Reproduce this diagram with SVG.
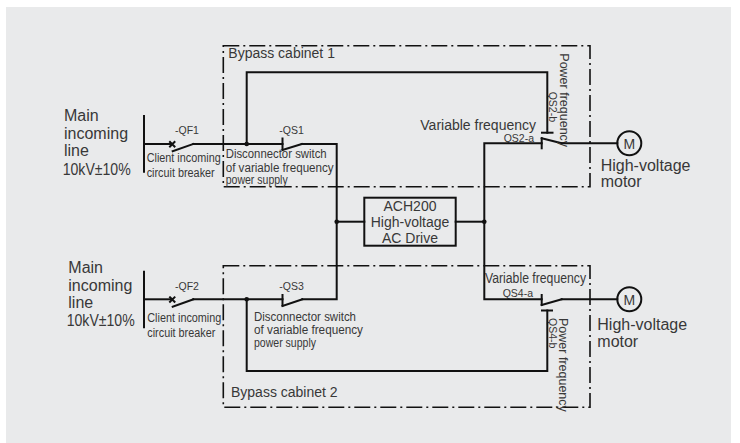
<svg xmlns="http://www.w3.org/2000/svg" width="740" height="443" viewBox="0 0 740 443">
<style>
.w{fill:none;stroke:#111;stroke-width:2;stroke-linecap:square}
.cab{fill:none;stroke:#111;stroke-width:1.6;stroke-dasharray:16 4 2 4}
.t{font-family:"Liberation Sans",Arial,sans-serif;fill:#383838}
.big{font-size:16px}
.mid{font-size:14px}
.sm{font-size:12.5px}
.xs{font-size:10.5px}
.dot{fill:#111}
</style>
<rect x="0" y="0" width="740" height="443" fill="#ffffff"/>
<rect x="6" y="7" width="725" height="436" fill="#e9eaeb"/>

<g id="cabinet1">
<rect class="cab" x="223.3" y="45.7" width="366.7" height="141"/>
<text class="t mid" x="228.3" y="58.3">Bypass cabinet 1</text>
</g>
<g id="cabinet2">
<rect class="cab" x="223.3" y="265.7" width="366.7" height="141.6"/>
<text class="t mid" x="231" y="397.3">Bypass cabinet 2</text>
</g>

<g id="incoming1">
<text class="t big" x="64" y="120.7">Main</text>
<text class="t big" x="64" y="138.5">incoming</text>
<text class="t big" x="64" y="156.3">line</text>
<text class="t big" x="62.7" y="175" textLength="68" lengthAdjust="spacingAndGlyphs">10kV±10%</text>
<line class="w" x1="144" y1="116" x2="144" y2="171.7"/>
</g>
<g id="incoming2">
<text class="t big" x="68.3" y="272.7">Main</text>
<text class="t big" x="68.3" y="290.7">incoming</text>
<text class="t big" x="68.3" y="308.3">line</text>
<text class="t big" x="66.7" y="326" textLength="68" lengthAdjust="spacingAndGlyphs">10kV±10%</text>
<line class="w" x1="144" y1="271.7" x2="144" y2="327.3"/>
</g>

<g id="QF1">
<text class="t xs" x="175" y="134">-QF1</text>
<path class="w" d="M170 142 L174.5 146.5 M174.5 142 L170 146.5" stroke-width="1.5"/>
<line class="w" x1="172.7" y1="151.2" x2="193.3" y2="144"/>
<text class="t sm" x="146.7" y="161.7" textLength="74" lengthAdjust="spacingAndGlyphs">Client incoming</text>
<text class="t sm" x="146.7" y="176.7" textLength="68" lengthAdjust="spacingAndGlyphs">circuit breaker</text>
</g>
<g id="QS1">
<text class="t xs" x="279.3" y="134">-QS1</text>
<line class="w" x1="282.5" y1="138.5" x2="282.5" y2="149.5"/>
<line class="w" x1="282.5" y1="150" x2="301.7" y2="144"/>
<text class="t sm" x="225.7" y="158.3" textLength="101" lengthAdjust="spacingAndGlyphs">Disconnector switch</text>
<text class="t sm" x="225.7" y="171.7" textLength="108" lengthAdjust="spacingAndGlyphs">of variable frequency</text>
<text class="t sm" x="225.7" y="184.3" textLength="62" lengthAdjust="spacingAndGlyphs">power supply</text>
</g>
<g id="QF2">
<text class="t xs" x="175" y="290">-QF2</text>
<path class="w" d="M170 297.3 L174.5 301.8 M174.5 297.3 L170 301.8" stroke-width="1.5"/>
<line class="w" x1="172.7" y1="306.8" x2="193.3" y2="299.3"/>
<text class="t sm" x="147.3" y="321.7" textLength="74" lengthAdjust="spacingAndGlyphs">Client incoming</text>
<text class="t sm" x="147.3" y="336.7" textLength="68" lengthAdjust="spacingAndGlyphs">circuit breaker</text>
</g>
<g id="QS3">
<text class="t xs" x="279.3" y="290">-QS3</text>
<line class="w" x1="282.5" y1="295" x2="282.5" y2="305.5"/>
<line class="w" x1="282.5" y1="306" x2="302.3" y2="299.3"/>
<text class="t sm" x="254" y="320.7" textLength="102" lengthAdjust="spacingAndGlyphs">Disconnector switch</text>
<text class="t sm" x="254" y="334" textLength="109" lengthAdjust="spacingAndGlyphs">of variable frequency</text>
<text class="t sm" x="254" y="346.7" textLength="62" lengthAdjust="spacingAndGlyphs">power supply</text>
</g>

<g id="drive">
<rect x="364.3" y="197.7" width="91.4" height="48" fill="none" stroke="#111" stroke-width="2"/>
<text class="t mid" x="410" y="211" text-anchor="middle" font-size="15">ACH200</text>
<text class="t mid" x="410" y="226.5" text-anchor="middle" font-size="15">High-voltage</text>
<text class="t mid" x="410" y="243.3" text-anchor="middle" font-size="15">AC Drive</text>
</g>

<g id="QS2">
<text class="t mid" x="536" y="130" text-anchor="end">Variable frequency</text>
<text class="t xs" x="534" y="141.8" text-anchor="end">QS2-a</text>
<line class="w" x1="541.7" y1="138.3" x2="541.7" y2="148.3"/>
<line class="w" x1="541.7" y1="138.3" x2="561.7" y2="143.3"/>
<line class="w" x1="542" y1="132.7" x2="552.5" y2="132.7"/>
<text class="t xs" transform="translate(549,91.7) rotate(90)">QS2-b</text>
<text class="t sm" font-size="12" transform="translate(559.8,53.3) rotate(90)">Power frequency</text>
</g>
<g id="QS4">
<text class="t mid" x="485" y="282.7" textLength="101" lengthAdjust="spacingAndGlyphs">Variable frequency</text>
<text class="t xs" x="502.7" y="296.7">QS4-a</text>
<line class="w" x1="541.7" y1="295" x2="541.7" y2="305"/>
<line class="w" x1="541.7" y1="305" x2="561.7" y2="299.3"/>
<line class="w" x1="542" y1="310.5" x2="552" y2="310.5"/>
<text class="t xs" transform="translate(549,318) rotate(90)">QS4-b</text>
<text class="t sm" font-size="12" transform="translate(559.3,318) rotate(90)">Power frequency</text>
</g>

<g id="motor1">
<circle cx="629.3" cy="143.3" r="12" fill="none" stroke="#111" stroke-width="2"/>
<text class="t mid" x="629.3" y="148.5" text-anchor="middle">M</text>
<text class="t big" x="600.7" y="171">High-voltage</text>
<text class="t big" x="600.7" y="187">motor</text>
</g>
<g id="motor2">
<circle cx="629.3" cy="299.3" r="12" fill="none" stroke="#111" stroke-width="2"/>
<text class="t mid" x="629.3" y="304.5" text-anchor="middle">M</text>
<text class="t big" x="597.3" y="330">High-voltage</text>
<text class="t big" x="597.3" y="346.5">motor</text>
</g>

<g id="connectors">
<path class="w" d="M144 144 H172"/>
<path class="w" d="M193.3 144 H282.5"/>
<path class="w" d="M301.7 144 H336.7 V299.3 H302.3"/>
<path class="w" d="M282.5 299.3 H193.3"/>
<path class="w" d="M144 299.3 H172"/>
<path class="w" d="M246.7 144 V72.3 H547.3 V132.7"/>
<path class="w" d="M246.7 299.3 V371 H547.3 V310.5"/>
<path class="w" d="M336.7 221.7 H364.3"/>
<path class="w" d="M455.7 221.7 H484.3"/>
<path class="w" d="M541.7 143.3 H484.3 V299.3 H541.7"/>
<path class="w" d="M561.7 143.3 H617.3"/>
<path class="w" d="M561.7 299.3 H617.3"/>
<circle class="dot" cx="246.7" cy="144" r="2.3"/>
<circle class="dot" cx="246.7" cy="299.3" r="2.3"/>
<circle class="dot" cx="336.7" cy="221.7" r="2.3"/>
<circle class="dot" cx="484.3" cy="221.7" r="2.3"/>
</g>
</svg>
